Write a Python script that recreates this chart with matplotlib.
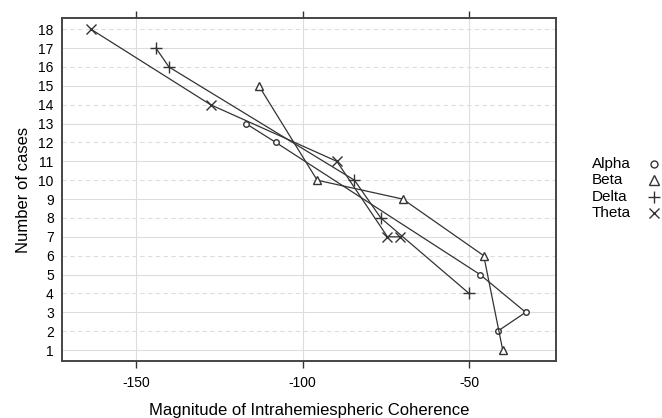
import matplotlib
matplotlib.use('Agg')
import matplotlib.pyplot as plt
from matplotlib.lines import Line2D

plt.rcParams['font.family'] = ['Liberation Sans', 'DejaVu Sans']

# data (x = coherence magnitude, y = number of cases)
alpha_x = [-117.0, -108.0, -46.7, -33.0, -41.4]
alpha_y = [13, 12, 5, 3, 2]
beta_x = [-113.1, -95.6, -69.9, -45.6, -39.9]
beta_y = [15, 10, 9, 6, 1]
delta_x = [-144.0, -140.1, -84.4, -76.5, -50.0]
delta_y = [17, 16, 10, 8, 4]
theta_x = [-163.5, -127.6, -89.7, -74.5, -70.7]
theta_y = [18, 14, 11, 7, 7]

names = ['Alpha', 'Beta', 'Delta', 'Theta']
markers = ['o', '^', '+', 'x']
xticks = [-150, -100, -50]
yticks = list(range(1, 19))

fig = plt.figure(figsize=(6.62, 4.18), dpi=100)
ax = fig.add_axes([0.0937, 0.1364, 0.7462, 0.8198])

series = [(alpha_x, alpha_y), (beta_x, beta_y), (delta_x, delta_y), (theta_x, theta_y)]
sizes = [4, 6, 9, 7]
for (xs, ys), m, s in zip(series, markers, sizes):
    ax.plot(xs, ys, color='#333333', lw=0.9, marker=m, ms=s,
            mfc='white' if m in 'o^' else 'none', mec='#333333', mew=1.0, zorder=3)

# grid
for y in yticks:
    ls = (0, (4, 3)) if y % 2 == 0 else '-'
    ax.axhline(y, color='#dddddd', lw=0.8, ls=ls, zorder=1)
for x in xticks:
    ax.axvline(x, color='#dddddd', lw=0.8, zorder=1)

ax.set_xlim(-172.2, -23.9)
ax.set_ylim(0.42, 18.58)
ax.set_xticks(xticks)
ax.set_xticklabels([str(t) for t in xticks])
ax.set_yticks(yticks)
ax.tick_params(axis='x', direction='out', length=5, width=1, color='#333333',
               top=True, labelsize=10, pad=6)
ax.tick_params(axis='y', length=0, labelsize=10, pad=6)
for sp in ax.spines.values():
    sp.set_color('#444444')
    sp.set_linewidth(1.4)

ax.set_xlabel('Magnitude of Intrahemiespheric Coherence', fontsize=12, labelpad=9)
ax.set_ylabel('Number of cases', fontsize=12, labelpad=5)

# legend on the right: text then symbol
for i, (n, m) in enumerate(zip(names, markers)):
    yy = 1 - (164 + i * 16.3) / 418
    fig.text(592 / 662, yy, n, fontsize=11, va='center', ha='left')
    fig.add_artist(Line2D([654 / 662], [yy], marker=m, ms=[5, 7, 9, 7][i],
                          mfc='none', mec='#333333', mew=1.0, ls='none',
                          transform=fig.transFigure))

fig.savefig('out.png', dpi=100)
